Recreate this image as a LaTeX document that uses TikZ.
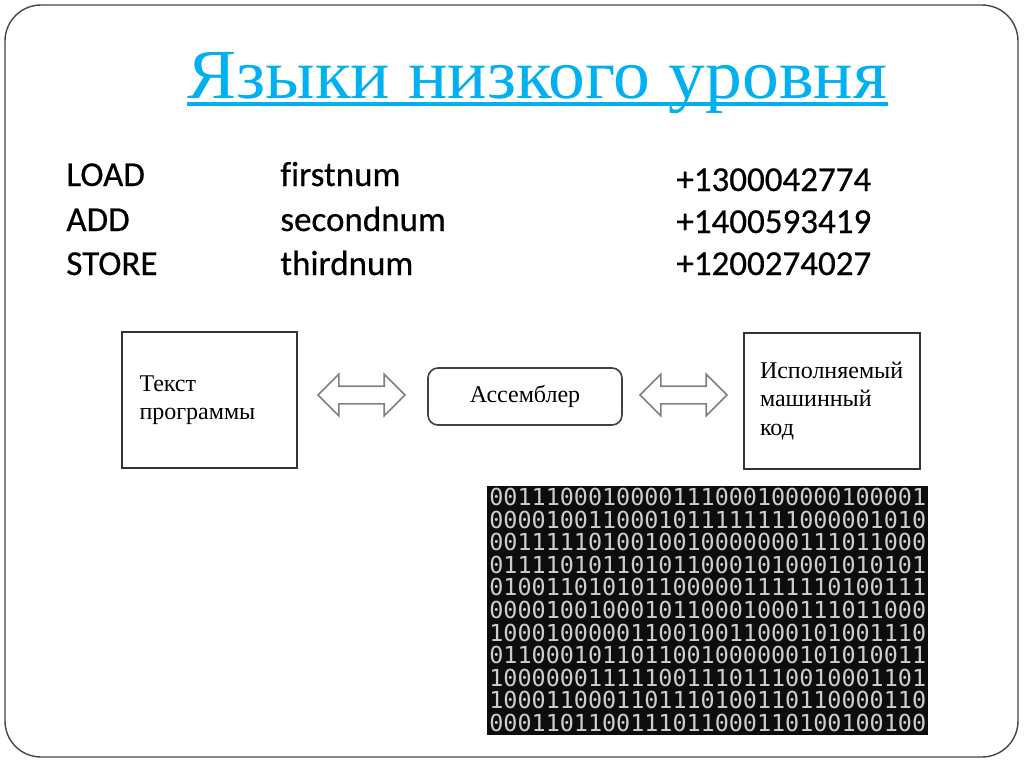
\documentclass[tikz,border=0pt]{standalone}
\usepackage{fontspec}
\setmainfont{Liberation Serif}
\newfontfamily\codefont{Carlito}[Ligatures=NoCommon, FakeBold=0.5]
\newfontfamily\bitsfont{DejaVu Sans Mono}
\usetikzlibrary{positioning,shapes.arrows}
\definecolor{titleblue}{RGB}{0,176,240}
\definecolor{bitgray}{RGB}{205,205,205}
\definecolor{framegray}{RGB}{70,70,70}

\begin{document}
\begin{tikzpicture}[x=0.5pt,y=-0.5pt]
\tikzstyle{box}=[rectangle, draw=black!80, line width=0.8pt, minimum width=87.5pt, minimum height=68pt, inner xsep=8.5pt, text width=70pt, align=left, font=\fontsize{12pt}{14.2pt}\selectfont]
\tikzstyle{roundbox}=[rectangle, rounded corners=5pt, draw=black!75, line width=0.8pt, minimum width=97pt, minimum height=28.5pt, font=\fontsize{12pt}{14pt}\selectfont]
\tikzstyle{darrow}=[double arrow, draw=black!50, line width=0.8pt, fill=white, minimum height=43.5pt, minimum width=20pt, inner xsep=0pt, inner ysep=4pt, double arrow head extend=6pt]
\tikzstyle{code}=[anchor=base west, inner sep=0pt, font=\codefont\fontsize{17.5pt}{20pt}\selectfont]
\tikzstyle{bitrow}=[anchor=west, inner sep=0pt, text=bitgray, font=\bitsfont\fontsize{11.7pt}{12pt}\selectfont]

% 1. Slide
%%%%%%%%%%
\useasboundingbox[fill=white] (0,0) rectangle (1024,767);
\draw[framegray, line width=0.7pt, rounded corners=18pt] (5,5) rectangle (1018,757);

\node[anchor=base west, inner sep=0pt, text=titleblue, font=\fontsize{32pt}{36pt}\selectfont] (title) at (187,98) {\scalebox{1.15}[1.1]{Языки низкого уровня}};
\draw[titleblue, line width=2pt] ([yshift=-3pt]title.base west) -- ([yshift=-3pt]title.base east);

% 2. Assembler listing
%%%%%%%%%%%%%%%%%%%%%%
\node[code] (load)   at (66,186) {LOAD};
\node[code] (add)    at (66,231) {ADD};
\node[code] (store)  at (66,275) {STORE};
\node[code] (first)  at (280,186) {firstnum};
\node[code] (second) at (280,231) {secondnum};
\node[code] (third)  at (280,275) {thirdnum};
\node[code] (mc1)    at (676,191) {+1300042774};
\node[code] (mc2)    at (676,233) {+1400593419};
\node[code] (mc3)    at (676,275) {+1200274027};

% 3. Translation scheme
%%%%%%%%%%%%%%%%%%%%%%%
\node[box] (source) at (209.5,400) {Текст\\программы};
\node[roundbox] (asm) at (525,396.5) {Ассемблер};
\node[box, inner xsep=8pt, text width=72pt] (exec) at (832,401) {Исполняемый\\машинный\\код};
\node[darrow] (arrowA) at (361.5,395) {};
\node[darrow] (arrowB) at (683.5,395) {};

% 4. Machine code
%%%%%%%%%%%%%%%%%
\node[fill=black!95, minimum width=220.5pt, minimum height=124.5pt, anchor=north west, inner sep=0pt] (binary) at (487,486) {};
\foreach \bits [count=\r] in {%
  0011100010000111000100000100001,
  0000100110001011111111000001010,
  0011111010010010000000111011000,
  0111101011010110001010001010101,
  0100110101011000001111110100111,
  0000100100010110001000111011000,
  1000100000110010011000101001110,
  0110001011011001000000101010011,
  1000000111110011101110010001101,
  1000110001101110100110110000110,
  0001101100111011000110100100100}
  \node[bitrow] (row\r) at (489,{497+(\r-1)*22.6}) {\bits};

\end{tikzpicture}
\end{document}
